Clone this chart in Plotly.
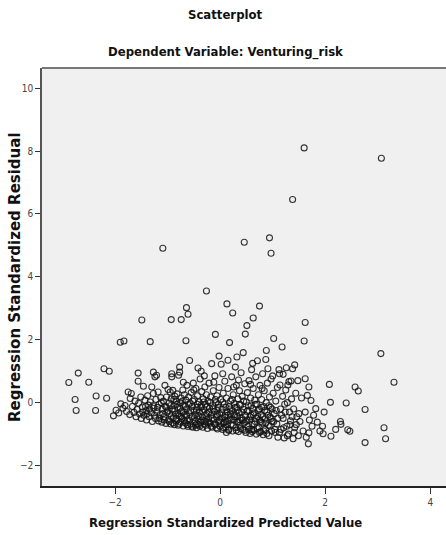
import plotly.graph_objects as go

# Regression standardized predicted values (x) and residuals (y)
pts = [
# left outliers
(-2.88,0.64),(-2.70,0.94),(-2.50,0.65),(-2.76,0.10),(-2.74,-0.25),(-2.36,0.21),(-2.37,-0.25),
(-2.16,0.14),(-2.21,1.08),(-2.11,1.00),(-1.90,1.92),(-1.83,1.96),(-1.49,2.63),(-1.33,1.94),
# region -2.05 .. -1.5
(-2.03,-0.42),(-1.98,-0.24),(-1.93,-0.33),(-1.89,-0.04),(-1.85,-0.18),(-1.81,-0.09),(-1.78,-0.28),
(-1.75,0.34),(-1.72,-0.38),(-1.71,0.13),(-1.69,0.29),(-1.67,-0.12),(-1.64,-0.31),(-1.62,0.05),
(-1.60,-0.45),(-1.58,-0.22),(-1.56,0.94),(-1.56,0.68),(-1.55,-0.02),(-1.53,-0.36),(-1.51,0.18),(-1.50,-0.50),
# region -1.5 .. -1.0
(-1.48,-0.14),(-1.46,0.52),(-1.45,-0.40),(-1.43,0.08),(-1.41,-0.26),(-1.40,-0.55),(-1.38,0.22),
(-1.36,-0.08),(-1.35,-0.45),(-1.33,0.02),(-1.31,-0.32),(-1.30,0.50),(-1.29,-0.60),(-1.27,0.97),
(-1.27,0.29),(-1.26,-0.18),(-1.24,0.82),(-1.23,-0.50),(-1.22,0.10),(-1.21,0.87),(-1.20,-0.28),
(-1.18,0.34),(-1.17,-0.58),(-1.16,-0.05),(-1.14,-0.38),(-1.13,0.16),(-1.11,-0.62),(-1.10,-0.20),
(-1.08,0.05),(-1.07,-0.45),(-1.05,0.55),(-1.04,-0.12),(-1.03,-0.66),(-1.02,0.18),(-1.01,-0.30),
(-1.47,-0.30),(-1.42,-0.12),(-1.39,-0.35),(-1.34,-0.20),(-1.28,-0.10),(-1.25,-0.40),(-1.19,-0.15),
(-1.15,-0.50),(-1.12,0.00),(-1.09,-0.35),(-1.06,-0.55),(-1.02,-0.15),
# region -1.0 .. -0.5
(-0.99,0.42),(-0.98,-0.55),(-0.97,-0.02),(-0.96,-0.35),(-0.95,0.34),(-0.94,-0.68),(-0.93,0.12),
(-0.92,0.92),(-0.92,0.82),(-0.91,-0.22),(-0.90,0.39),(-0.89,-0.48),(-0.88,-0.10),(-0.87,-0.70),
(-0.86,0.20),(-0.85,-0.36),(-0.84,0.05),(-0.83,-0.58),(-0.82,0.28),(-0.81,-0.15),(-0.80,-0.72),
(-0.79,0.87),(-0.78,-0.42),(-0.77,1.13),(-0.77,0.97),(-0.76,0.00),(-0.75,-0.62),(-0.74,0.15),
(-0.73,-0.28),(-0.72,-0.50),(-0.71,0.40),(-0.70,-0.74),(-0.69,-0.08),(-0.68,0.25),(-0.67,-0.38),
(-0.66,-0.65),(-0.65,0.08),(-0.64,-0.20),(-0.63,0.55),(-0.62,-0.55),(-0.61,-0.76),(-0.60,0.18),
(-0.59,-0.32),(-0.58,1.34),(-0.57,-0.02),(-0.56,-0.68),(-0.55,0.32),(-0.54,-0.45),(-0.53,-0.12),
(-0.52,-0.78),(-0.51,0.62),(-0.50,-0.25),
(-0.99,-0.25),(-0.97,-0.60),(-0.95,-0.10),(-0.93,-0.45),(-0.90,-0.65),(-0.88,0.10),(-0.86,-0.25),
(-0.84,-0.50),(-0.82,-0.05),(-0.80,-0.35),(-0.78,-0.68),(-0.76,-0.18),(-0.74,-0.45),(-0.72,0.05),
(-0.70,-0.30),(-0.68,-0.58),(-0.66,-0.12),(-0.64,-0.42),(-0.62,-0.70),(-0.60,-0.05),(-0.58,-0.55),
(-0.56,-0.25),(-0.54,-0.75),(-0.52,0.05),
# region -0.5 .. 0
(-0.49,0.10),(-0.48,-0.60),(-0.47,-0.38),(-0.46,0.45),(-0.45,-0.80),(-0.44,-0.15),(-0.43,0.22),
(-0.42,-0.52),(-0.41,-0.70),(-0.40,0.02),(-0.39,-0.30),(-0.38,0.75),(-0.37,-0.62),(-0.36,1.00),
(-0.36,-0.08),(-0.35,0.35),(-0.34,-0.45),(-0.33,-0.78),(-0.32,0.12),(-0.31,-0.22),(-0.30,-0.58),
(-0.29,0.50),(-0.28,-0.05),(-0.27,-0.72),(-0.26,0.25),(-0.25,-0.35),(-0.24,-0.82),(-0.23,0.05),
(-0.22,-0.50),(-0.21,0.62),(-0.20,-0.18),(-0.19,-0.65),(-0.18,0.18),(-0.17,-0.40),(-0.16,1.24),
(-0.15,-0.78),(-0.14,-0.10),(-0.13,0.38),(-0.12,-0.55),(-0.11,-0.28),(-0.10,0.85),(-0.09,-0.70),
(-0.08,0.00),(-0.07,-0.45),(-0.06,0.22),(-0.05,-0.84),(-0.04,-0.15),(-0.03,-0.60),(-0.02,1.48),
(-0.02,0.48),(-0.01,-0.35),(0.00,-0.75),(-0.06,-0.25),(-0.27,-0.60),(-0.44,-0.68),
(-0.49,-0.48),(-0.47,-0.72),(-0.45,-0.25),(-0.43,-0.05),(-0.41,-0.42),(-0.39,-0.75),(-0.37,-0.15),
(-0.35,-0.55),(-0.33,-0.30),(-0.31,0.02),(-0.29,-0.68),(-0.27,-0.40),(-0.25,-0.12),(-0.23,-0.62),
(-0.21,-0.30),(-0.19,0.00),(-0.17,-0.75),(-0.15,-0.50),(-0.13,-0.20),(-0.11,-0.68),(-0.09,0.10),
(-0.07,-0.80),(-0.05,-0.38),(-0.03,-0.05),(-0.01,-0.55),
# region 0 .. 0.5
(0.01,0.10),(0.02,1.22),(0.03,-0.50),(0.04,-0.22),(0.05,-0.85),(0.06,0.30),(0.07,-0.65),
(0.08,-0.05),(0.09,0.68),(0.10,-0.40),(0.11,-0.78),(0.12,0.15),(0.13,-0.30),(0.14,-0.58),
(0.15,0.45),(0.16,-0.88),(0.17,-0.12),(0.18,1.91),(0.19,-0.48),(0.20,0.05),(0.21,-0.70),
(0.22,0.82),(0.23,-0.25),(0.24,-0.90),(0.25,0.25),(0.26,-0.55),(0.27,-0.02),(0.28,-0.38),
(0.29,1.13),(0.30,-0.80),(0.31,0.55),(0.32,-0.15),(0.33,-0.62),(0.34,0.12),(0.35,-0.92),
(0.36,-0.32),(0.37,0.38),(0.38,-0.72),(0.39,-0.08),(0.40,0.95),(0.41,-0.50),(0.42,0.20),
(0.43,-0.85),(0.44,1.59),(0.45,-0.22),(0.46,-0.65),(0.47,0.60),(0.48,-0.40),(0.49,-0.95),
(0.50,0.02),(0.08,-0.62),(0.20,-0.35),(0.33,-0.45),(0.12,-0.95),(0.38,-0.55),
(0.01,-0.62),(0.03,-0.32),(0.05,0.02),(0.07,-0.80),(0.09,-0.45),(0.11,-0.15),(0.13,-0.70),
(0.15,-0.40),(0.17,-0.85),(0.19,-0.20),(0.21,-0.55),(0.23,0.10),(0.25,-0.72),(0.27,-0.45),
(0.29,-0.15),(0.31,-0.88),(0.33,-0.25),(0.35,-0.60),(0.37,-0.05),(0.39,-0.82),(0.41,-0.30),
(0.43,-0.55),(0.45,0.05),(0.47,-0.88),(0.49,-0.60),
# region 0.5 .. 1.0
(0.51,-0.28),(0.52,0.32),(0.53,-0.75),(0.54,-0.10),(0.55,0.70),(0.56,-0.55),(0.57,-0.98),
(0.58,0.15),(0.59,-0.40),(0.60,1.05),(0.61,-0.68),(0.62,-0.18),(0.63,0.45),(0.64,-0.88),
(0.65,-0.32),(0.66,0.08),(0.67,-0.60),(0.68,0.82),(0.69,-1.00),(0.70,-0.05),(0.71,1.33),
(0.72,-0.45),(0.73,0.25),(0.74,-0.78),(0.75,-0.20),(0.76,0.55),(0.77,-0.92),(0.78,-0.38),
(0.79,0.10),(0.80,-0.65),(0.81,0.92),(0.82,-1.02),(0.83,-0.12),(0.84,0.38),(0.85,-0.52),
(0.86,-0.85),(0.87,1.37),(0.88,1.66),(0.88,0.00),(0.89,-0.30),(0.90,0.62),(0.91,1.08),
(0.92,-0.72),(0.93,-1.05),(0.94,0.18),(0.95,-0.45),(0.96,-0.15),(0.97,0.75),(0.98,-0.90),
(0.99,-0.60),(0.60,-0.85),(0.75,-0.55),
(0.51,-0.55),(0.53,-0.25),(0.55,-0.85),(0.57,-0.45),(0.59,-0.10),(0.61,-0.92),(0.63,-0.38),
(0.65,-0.68),(0.67,-0.05),(0.69,-0.50),(0.71,-0.82),(0.73,-0.25),(0.75,-0.95),(0.77,-0.60),
(0.79,-0.15),(0.81,-0.45),(0.83,-0.90),(0.85,-0.25),(0.87,-0.65),(0.89,-0.98),(0.91,-0.40),
(0.93,-0.10),(0.95,-0.75),(0.97,-0.50),(0.99,-0.20),
# region 1.0 .. 1.5
(1.01,0.30),(1.02,2.04),(1.03,-0.35),(1.05,-0.95),(1.06,0.05),(1.08,-0.68),(1.09,0.48),
(1.10,-1.10),(1.12,1.05),(1.13,0.92),(1.14,0.56),(1.15,-0.20),(1.16,-0.85),(1.18,1.77),
(1.19,0.20),(1.20,-0.50),(1.22,-1.12),(1.23,-0.05),(1.25,0.40),(1.26,1.11),(1.27,-0.75),
(1.28,0.00),(1.29,0.56),(1.30,-1.00),(1.31,0.67),(1.32,-0.30),(1.34,-0.58),(1.35,0.69),
(1.36,0.12),(1.38,1.08),(1.39,-1.15),(1.40,-0.20),(1.42,-0.80),(1.44,0.30),(1.46,-0.45),
(1.48,0.70),(1.49,-1.05),
(1.02,-0.60),(1.04,-0.85),(1.07,-0.25),(1.10,-0.50),(1.13,-0.95),(1.17,-0.40),(1.21,-0.80),
(1.24,-0.30),(1.28,-1.05),(1.33,-0.70),(1.37,-0.45),(1.41,-0.95),(1.45,-0.70),(1.50,-0.35),
# region 1.5 .. 2.0
(1.52,-0.60),(1.55,0.15),(1.58,-0.90),(1.60,1.96),(1.62,0.76),(1.62,-0.30),(1.64,-1.10),
(1.66,0.23),(1.68,-1.31),(1.69,0.50),(1.69,-0.96),(1.70,-0.55),(1.73,0.07),(1.75,-0.75),
(1.78,-0.40),(1.82,-0.19),(1.85,-0.62),(1.90,-0.90),(1.95,-0.75),(1.96,-0.99),(1.98,-0.30),
# upper-middle scatter
(-0.30,0.85),(-0.12,0.65),(0.05,0.92),(0.26,0.50),(0.35,0.72),(0.58,0.58),(0.80,0.45),
(1.00,0.85),(1.20,0.90),(-0.50,0.40),(-0.70,0.65),(0.15,1.35),(0.62,1.25),(-0.42,1.10),
(1.42,1.20),(0.32,1.45),
# right outliers
(2.08,0.58),(2.10,0.01),(2.11,-1.07),(2.20,-0.85),(2.29,-0.60),(2.30,-0.69),(2.40,-0.01),
(2.43,-0.86),(2.47,-0.91),(2.57,0.50),(2.63,0.37),(2.76,-0.22),(2.76,-1.27),(3.06,1.56),
(3.12,-0.80),(3.15,-1.15),(3.31,0.65),
# upper scatter
(-0.93,2.64),(-0.74,2.64),(-0.64,3.02),(-0.61,2.81),(-0.65,1.97),(-0.09,2.17),(0.13,3.14),
(0.24,2.85),(0.75,3.07),(0.63,2.69),(0.51,2.45),(0.48,2.18),(-0.26,3.55),(1.62,2.55),
# high outliers
(1.60,8.10),(3.07,7.77),(1.38,6.46),(-1.09,4.91),(0.46,5.10),(0.94,5.24),(0.97,4.75),
]
predicted = [p[0] for p in pts]
residual = [p[1] for p in pts]

x_ticks = [-2, 0, 2, 4]
y_ticks = [-2, 0, 2, 4, 6, 8, 10]

NARROW = "DejaVu Sans Condensed, Liberation Sans Narrow, Arial Narrow, sans-serif"

fig = go.Figure(go.Scatter(
    x=predicted, y=residual, mode="markers",
    marker=dict(symbol="circle-open", size=6, color="rgba(20,20,20,0.85)",
                line=dict(width=1.1, color="rgba(20,20,20,0.85)")),
    hoverinfo="skip", showlegend=False))

tickfont = dict(family=NARROW, size=10, color="#444")
fig.update_xaxes(range=[-3.39, 4.30], tickvals=x_ticks, ticks="outside", ticklen=6,
                 tickcolor="#333", tickwidth=1, showline=True, linecolor="#222", linewidth=1.5,
                 mirror=False, showgrid=False, zeroline=False, tickfont=tickfont)
fig.update_yaxes(range=[-2.65, 10.64], tickvals=y_ticks, ticks="outside", ticklen=5,
                 tickcolor="#333", tickwidth=1, showline=True, linecolor="#555", linewidth=1.5,
                 showgrid=False, zeroline=False, tickfont=tickfont)

fig.add_shape(type="line", xref="paper", yref="paper", x0=0, x1=1, y0=1, y1=1,
              line=dict(color="#777", width=2))

fig.update_layout(
    width=446, height=535, margin=dict(l=42, r=0, t=68, b=49),
    paper_bgcolor="white", plot_bgcolor="#f0f0f0",
    annotations=[
        dict(text="<b>Scatterplot</b>", xref="paper", yref="paper", x=0.455, y=1.127,
             xanchor="center", yanchor="middle", showarrow=False,
             font=dict(family=NARROW, size=13, color="#111")),
        dict(text="<b>Dependent Variable: Venturing_risk</b>", xref="paper", yref="paper",
             x=0.455, y=1.038, xanchor="center", yanchor="middle", showarrow=False,
             font=dict(family=NARROW, size=13, color="#111")),
        dict(text="<b>Regression Standardized Predicted Value</b>", xref="paper", yref="paper",
             x=0.455, y=-0.088, xanchor="center", yanchor="middle", showarrow=False,
             font=dict(family=NARROW, size=13, color="#111")),
        dict(text="<b>Regression Standardized Residual</b>", xref="paper", yref="paper",
             x=-0.067, y=0.5, xanchor="center", yanchor="middle", textangle=-90, showarrow=False,
             font=dict(family="DejaVu Sans", size=15, color="#111")),
    ],
)

fig.write_html("out.html")
